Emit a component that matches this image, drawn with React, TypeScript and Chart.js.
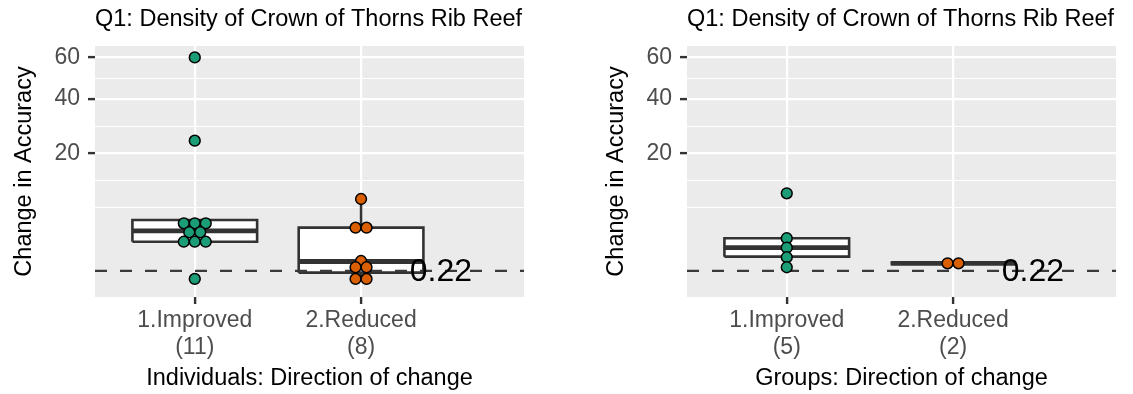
import React, { useEffect, useRef } from 'react';
import { Chart, registerables } from 'chart.js';

Chart.register(...registerables);

// ---------------- data ----------------
const plotTitle = 'Q1: Density of Crown of Thorns Rib Reef';
const yAxisTitle = 'Change in Accuracy';
const categories = ['1.Improved', '2.Reduced'];
const individualCounts = ['(11)', '(8)'];
const groupCounts = ['(5)', '(2)'];
const individualAxisTitle = 'Individuals: Direction of change';
const groupAxisTitle = 'Groups: Direction of change';
const yTickValues = [20, 40, 60];
const thresholdValue = 0.22;
const thresholdLabel = '0.22';
const thresholdLabelX = 2.48;

// individuals (dot positions as binned by the dot plot)
const indivImproved = [59.9, 24.06, 4.37, 4.37, 4.37, 3.19, 3.19, 2.14, 2.14, 2.14, 0.038];
const indivReduced = [8.52, 3.77, 3.77, 0.651, 0.352, 0.352, 0.038, 0.038];
// box stats: [lower whisker, q1, median, q3, upper whisker]
const indivImprovedBox = [2.14, 2.14, 3.37, 4.86, 4.86];
const indivReducedBox = [0.038, 0.167, 0.624, 3.77, 8.52];

// groups
const groupImproved = [9.69, 2.5, 1.59, 0.871, 0.352];
const groupReduced = [0.531, 0.531];
const groupImprovedBox = [0.352, 0.91, 1.59, 2.5, 2.5];
const groupReducedBox = [0.531, 0.531, 0.531, 0.531, 0.531];

// ---------------- styling ----------------
const FONT = '"Liberation Sans", Arial, Helvetica, sans-serif';
const GREEN = '#1B9E77';
const ORANGE = '#D95F02';
const INK = '#333333';
const PANEL_BG = '#EBEBEB';
const BOX_HALF = 0.375;
const DOT_STEP = 0.066;
const X_MIN = 0.4;
const X_MAX = 2.98;
const Y_MIN = -0.42; // sqrt-transformed
const Y_MAX = 8.13;

const t = (v: number) => Math.sqrt(v);

function stackDots(values: number[], center: number) {
  const groups = new Map<number, number>();
  values.forEach((v) => groups.set(v, (groups.get(v) || 0) + 1));
  const pts: { x: number; y: number }[] = [];
  groups.forEach((n, v) => {
    for (let i = 0; i < n; i++) pts.push({ x: center + (i - (n - 1) / 2) * DOT_STEP, y: t(v) });
  });
  return pts;
}

function boxDatasets(center: number, stats: number[]) {
  const [lo, q1, med, q3, hi] = stats.map(t);
  const l = center - BOX_HALF;
  const r = center + BOX_HALF;
  const base = { type: 'line', pointRadius: 0, borderColor: INK, tension: 0, fill: false };
  return [
    { ...base, data: [{ x: center, y: q3 }, { x: center, y: hi }], borderWidth: 2.5, order: 6 },
    { ...base, data: [{ x: center, y: q1 }, { x: center, y: lo }], borderWidth: 2.5, order: 6 },
    {
      ...base,
      data: [{ x: l, y: q1 }, { x: r, y: q1 }, { x: r, y: q3 }, { x: l, y: q3 }, { x: l, y: q1 }],
      fill: 'shape',
      backgroundColor: '#FFFFFF',
      borderWidth: 2.6,
      borderJoinStyle: 'miter',
      order: 4,
    },
    { ...base, data: [{ x: l, y: med }, { x: r, y: med }], borderWidth: 4.8, order: 3 },
  ];
}

function dotDataset(values: number[], center: number, color: string) {
  return {
    type: 'scatter',
    data: stackDots(values, center),
    pointRadius: 5.4,
    pointBackgroundColor: color,
    pointBorderColor: '#000000',
    pointBorderWidth: 1.5,
    order: 0,
  };
}

function buildMinorBreaks(majors: number[]) {
  const b = majors.map(t);
  const bd = b[1] - b[0];
  const ext = [...b];
  if (Y_MIN < ext[0]) ext.unshift(ext[0] - bd);
  if (Y_MAX > ext[ext.length - 1]) ext.push(ext[ext.length - 1] + bd);
  const out: number[] = [];
  for (let i = 0; i < ext.length - 1; i++) {
    out.push(ext[i]);
    out.push((ext[i] + ext[i + 1]) / 2);
  }
  return out.filter((v) => v > Y_MIN && v < Y_MAX && !b.some((m) => Math.abs(m - v) < 1e-9));
}

const bgPlugin = {
  id: 'panelBg',
  beforeDraw(chart: any) {
    const { ctx, chartArea } = chart;
    ctx.save();
    ctx.fillStyle = PANEL_BG;
    ctx.fillRect(chartArea.left, chartArea.top, chartArea.right - chartArea.left, chartArea.bottom - chartArea.top);
    ctx.restore();
  },
};

const labelPlugin = {
  id: 'thresholdLabel',
  afterDatasetsDraw(chart: any) {
    const { ctx, scales } = chart;
    ctx.save();
    ctx.font = `32px ${FONT}`;
    ctx.fillStyle = '#000000';
    ctx.textAlign = 'center';
    ctx.textBaseline = 'middle';
    ctx.fillText(thresholdLabel, scales.x.getPixelForValue(thresholdLabelX), scales.y.getPixelForValue(t(thresholdValue)) + 1);
    ctx.restore();
  },
};

function buildConfig(improved: number[], reduced: number[], impBox: number[], redBox: number[], counts: string[], xTitle: string) {
  const majors = yTickValues.map((v) => ({ value: t(v), isMinor: false, raw: v }));
  const minors = buildMinorBreaks(yTickValues).map((v) => ({ value: v, isMinor: true, raw: 0 }));
  const yTicks = [...minors, ...majors].sort((a, b) => a.value - b.value);

  const datasets: any[] = [
    dotDataset(improved, 1, GREEN),
    dotDataset(reduced, 2, ORANGE),
    {
      type: 'line',
      data: [{ x: X_MIN, y: t(thresholdValue) }, { x: X_MAX, y: t(thresholdValue) }],
      borderColor: '#3A3A3A',
      borderWidth: 2.4,
      borderDash: [12, 13],
      pointRadius: 0,
      fill: false,
      order: 1,
    },
    ...boxDatasets(1, impBox),
    ...boxDatasets(2, redBox),
  ];

  return {
    type: 'scatter',
    data: { datasets },
    plugins: [bgPlugin, labelPlugin],
    options: {
      responsive: false,
      animation: false,
      events: [],
      layout: { padding: { left: 0, right: 17, top: 0, bottom: 0 } },
      plugins: {
        legend: { display: false },
        tooltip: { enabled: false },
        title: {
          display: true,
          text: plotTitle,
          align: 'start',
          fullSize: false,
          color: '#000000',
          font: { family: FONT, size: 23.5, weight: 'normal', lineHeight: 1.2 },
          padding: { top: 5.6, bottom: 12.2 },
        },
      },
      scales: {
        x: {
          type: 'linear',
          min: X_MIN,
          max: X_MAX,
          bounds: 'data',
          afterBuildTicks: (scale: any) => {
            scale.ticks = categories.map((_, i) => ({ value: i + 1 }));
          },
          afterFit: (scale: any) => {
            scale.height = 97;
          },
          ticks: {
            autoSkip: false,
            maxRotation: 0,
            minRotation: 0,
            padding: 3.7,
            color: '#4D4D4D',
            font: { family: FONT, size: 23, lineHeight: 1.16 },
            callback: (_v: any, i: number) => [categories[i], counts[i]],
          },
          grid: {
            color: '#FFFFFF',
            lineWidth: 2.2,
            tickColor: INK,
            tickWidth: 2.4,
            tickLength: 7,
            drawTicks: true,
          },
          border: { display: false },
          title: {
            display: true,
            text: xTitle,
            color: '#000000',
            font: { family: FONT, size: 23.5, lineHeight: 1.2 },
            padding: { top: 0, bottom: 1.1 },
          },
        },
        y: {
          type: 'linear',
          min: Y_MIN,
          max: Y_MAX,
          bounds: 'data',
          afterBuildTicks: (scale: any) => {
            scale.ticks = yTicks.map((tk) => ({ ...tk }));
          },
          afterFit: (scale: any) => {
            scale.width = 95;
          },
          ticks: {
            autoSkip: false,
            padding: 8,
            color: '#4D4D4D',
            font: { family: FONT, size: 23 },
            callback: (_v: any, i: number, ticks: any[]) => (ticks[i].isMinor ? '' : String(ticks[i].raw)),
          },
          grid: {
            color: '#FFFFFF',
            lineWidth: (ctx: any) => (ctx.tick && ctx.tick.isMinor ? 1.1 : 2.2),
            tickColor: (ctx: any) => (ctx.tick && ctx.tick.isMinor ? 'rgba(0,0,0,0)' : INK),
            tickWidth: 2.4,
            tickLength: 7,
          },
          border: { display: false },
          title: {
            display: true,
            text: yAxisTitle,
            color: '#000000',
            font: { family: FONT, size: 23.5, lineHeight: 1.2 },
            padding: { top: 10, bottom: 0 },
          },
        },
      },
    },
  };
}

function Panel({ config, left }: { config: any; left: number }) {
  const ref = useRef<HTMLCanvasElement | null>(null);
  useEffect(() => {
    if (!ref.current) return;
    const chart = new Chart(ref.current, config);
    return () => chart.destroy();
  }, [config]);
  return (
    <canvas
      ref={ref}
      width={541}
      height={394}
      style={{ position: 'absolute', left, top: 0, width: 541, height: 394 }}
    />
  );
}

const leftConfig = buildConfig(indivImproved, indivReduced, indivImprovedBox, indivReducedBox, individualCounts, individualAxisTitle);
const rightConfig = buildConfig(groupImproved, groupReduced, groupImprovedBox, groupReducedBox, groupCounts, groupAxisTitle);

export default function App() {
  return (
    <div style={{ position: 'fixed', left: 0, top: 0, width: 1133, height: 394, background: '#FFFFFF', overflow: 'hidden' }}>
      <Panel config={leftConfig} left={0} />
      <Panel config={rightConfig} left={592} />
    </div>
  );
}
